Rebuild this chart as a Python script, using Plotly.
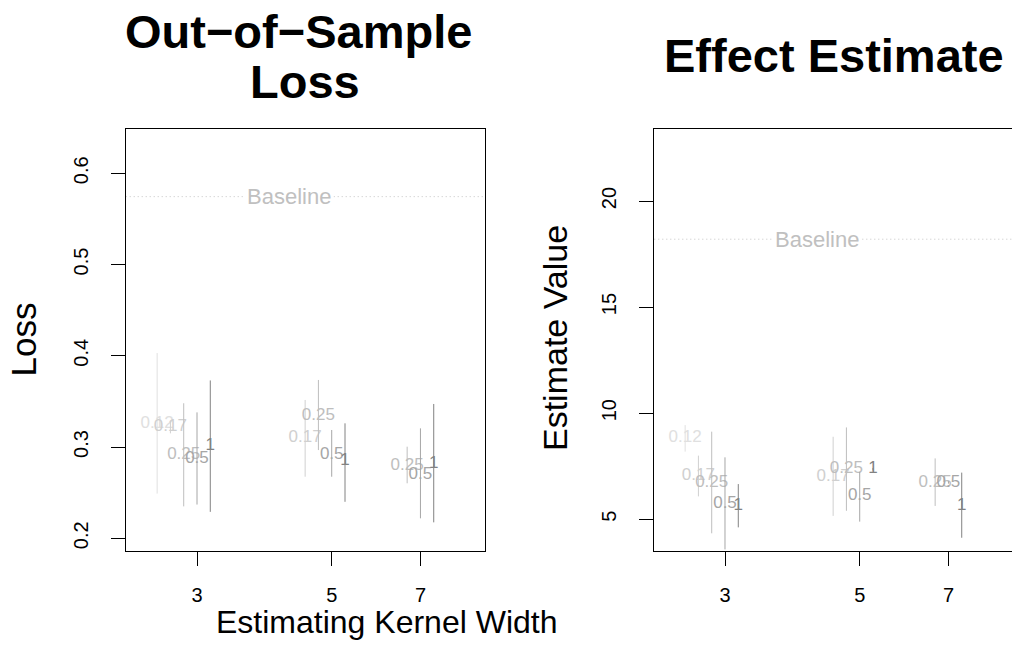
import numpy as np
import plotly.graph_objects as go

# ---------------- data ----------------
kernel_widths = [3, 5, 7]
weight_labels = ["0.12", "0.17", "0.25", "0.5", "1"]
weight_colors = ["#e0e0e0", "#d0d0d0", "#bebebe", "#a6a6a6", "#828282"]

# rows: weight, cols: kernel width (3, 5, 7); None = not shown
loss_est = [[0.326, None, None],
            [0.322, 0.310, None],
            [0.2915, 0.334, 0.280],
            [0.2875, 0.292, 0.270],
            [0.301, 0.285, 0.282]]
loss_lo = [[0.249, None, None],
           [0.315, 0.2675, None],
           [0.235, 0.2967, 0.2603],
           [0.237, 0.2675, 0.2219],
           [0.229, 0.240, 0.2175]]
loss_hi = [[0.403, None, None],
           [0.329, 0.3516, None],
           [0.348, 0.3735, 0.3004],
           [0.338, 0.3187, 0.3205],
           [0.373, 0.326, 0.3472]]

eff_est = [[8.82, None, None],
           [7.04, 7.02, None],
           [6.72, 7.36, 6.74],
           [5.75, 6.10, 6.74],
           [5.65, 7.36, 5.65]]
eff_lo = [[8.19, None, None],
          [6.08, 5.16, None],
          [4.34, 5.40, 5.63],
          [3.58, 4.89, 6.68],
          [4.62, 7.30, 4.13]]
eff_hi = [[9.44, None, None],
          [8.00, 8.89, None],
          [9.13, 9.33, 7.87],
          [7.92, 7.24, 6.80],
          [6.66, 7.42, 7.20]]

loss_baseline = 0.5744
eff_baseline = 18.2

loss_ticks = [0.2, 0.3, 0.4, 0.5, 0.6]
eff_ticks = [5, 10, 15, 20]

titles = ["Out\u2212of\u2212Sample", "Loss", "Effect Estimate"]

# ---------------- layout helpers ----------------
W, H = 1012, 662
FONT = "Liberation Sans, Arial, Helvetica, sans-serif"
DODGE = 0.0504  # log-space dodge per weight index


def px_x(p):
    return p / W


def px_y(p):
    return 1 - p / H


fig = go.Figure()


def add_panel(est, lo, hi, xa, ya):
    for i, lab in enumerate(weight_labels):
        xs, ys, up, dn = [], [], [], []
        for j, kw in enumerate(kernel_widths):
            if est[i][j] is None:
                continue
            xs.append(kw * np.exp(DODGE * (i - 3)))
            ys.append(est[i][j])
            up.append(hi[i][j] - est[i][j])
            dn.append(est[i][j] - lo[i][j])
        fig.add_trace(go.Scatter(
            x=xs, y=ys, mode="text", text=[lab] * len(xs),
            textposition="middle center",
            textfont=dict(family=FONT, size=17, color=weight_colors[i]),
            error_y=dict(type="data", symmetric=False, array=up, arrayminus=dn,
                         width=0, thickness=1, color=weight_colors[i]),
            xaxis=xa, yaxis=ya, showlegend=False, hoverinfo="skip"))


add_panel(loss_est, loss_lo, loss_hi, "x", "y")
add_panel(eff_est, eff_lo, eff_hi, "x2", "y2")

ydom = [px_y(551), px_y(129.3)]
axis_common = dict(showgrid=False, zeroline=False, showline=True, linecolor="black",
                   linewidth=1, ticks="outside", ticklen=14, tickwidth=1,
                   tickcolor="black", tickfont=dict(family=FONT, size=20, color="black"))

fig.update_layout(
    width=W, height=H, margin=dict(l=0, r=0, t=0, b=0),
    plot_bgcolor="white", paper_bgcolor="white",
    xaxis=dict(type="log", range=[0.35969, 0.95143], domain=[px_x(125.7), px_x(485)],
               tickvals=kernel_widths, ticktext=[str(k) for k in kernel_widths],
               mirror=True, anchor="y", ticklabelstandoff=12, **axis_common),
    yaxis=dict(range=[0.1861, 0.6482], domain=ydom, tickvals=loss_ticks,
               ticktext=[str(t) for t in loss_ticks], tickangle=-90, mirror=True,
               anchor="x", ticklabelstandoff=15, **axis_common),
    xaxis2=dict(type="log", range=[0.36068, 0.94978], domain=[px_x(654.3), 1.0],
                tickvals=kernel_widths, ticktext=[str(k) for k in kernel_widths],
                mirror=True, anchor="y2", ticklabelstandoff=12, **axis_common),
    yaxis2=dict(range=[3.506, 23.38], domain=ydom, tickvals=eff_ticks,
                ticktext=[str(t) for t in eff_ticks], tickangle=-90, mirror=False,
                anchor="x2", ticklabelstandoff=15, **axis_common),
)

# baselines
for xr, yr, val in [("x", "y", loss_baseline), ("x2", "y2", eff_baseline)]:
    fig.add_shape(type="line", xref=xr + " domain", x0=0, x1=1, yref=yr, y0=val, y1=val,
                  line=dict(color="#c4c4c4", width=1, dash="1px,3px"), layer="below")
    fig.add_annotation(x=np.log10(4.26), xref=xr, y=val, yref=yr, text="Baseline",
                       showarrow=False, bgcolor="white", borderpad=2,
                       font=dict(family=FONT, size=22, color="#c0c0c0"))

# titles
title_font = dict(family=FONT, size=47, color="black", weight="bold")
fig.add_annotation(x=px_x(298), y=px_y(31), xref="paper", yref="paper", text=titles[0],
                   showarrow=False, font=title_font, xanchor="center", yanchor="middle")
fig.add_annotation(x=px_x(305), y=px_y(82), xref="paper", yref="paper", text=titles[1],
                   showarrow=False, font=title_font, xanchor="center", yanchor="middle")
fig.add_annotation(x=px_x(834), y=px_y(56), xref="paper", yref="paper", text=titles[2],
                   showarrow=False, font=title_font, xanchor="center", yanchor="middle")

# axis titles
fig.add_annotation(x=px_x(22.5), y=px_y(340), xref="paper", yref="paper", text="Loss",
                   textangle=-90, showarrow=False,
                   font=dict(family=FONT, size=35, color="black"),
                   xanchor="center", yanchor="middle")
fig.add_annotation(x=px_x(555), y=px_y(338), xref="paper", yref="paper",
                   text="Estimate Value", textangle=-90, showarrow=False,
                   font=dict(family=FONT, size=34, color="black"),
                   xanchor="center", yanchor="middle")
fig.add_annotation(x=px_x(386), y=px_y(622), xref="paper", yref="paper",
                   text="Estimating Kernel Width", showarrow=False,
                   font=dict(family=FONT, size=32, color="black"),
                   xanchor="center", yanchor="middle")

fig.write_html("out.html")
